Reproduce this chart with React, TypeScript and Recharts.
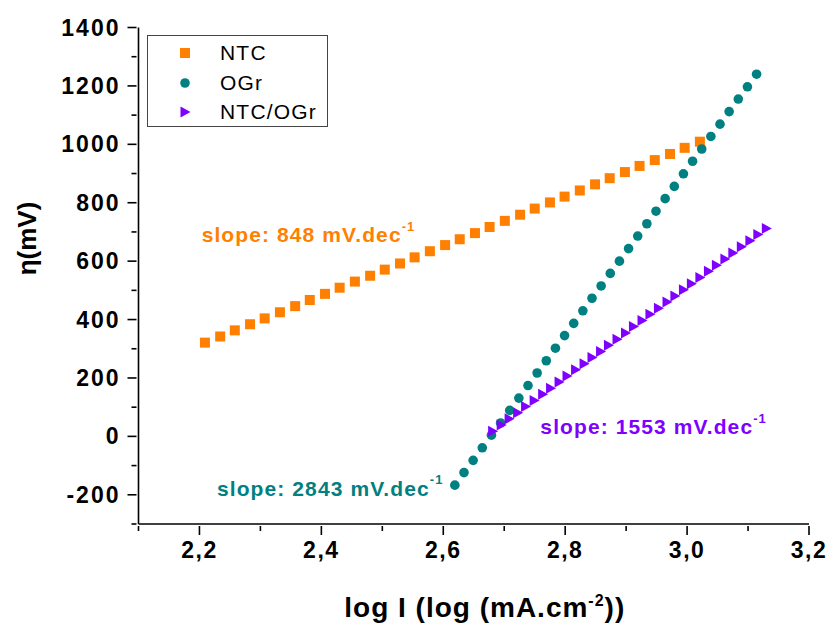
import React from 'react';
import { ScatterChart, Scatter, XAxis, YAxis, Legend, ReferenceDot } from 'recharts';

const FONT = '"Liberation Sans", Arial, sans-serif';
const ORANGE = '#ff8000';
const TEAL = '#008080';
const PURPLE = '#8000ff';

// log I values and overpotentials
const ntcX = [2.209, 2.234, 2.258, 2.283, 2.307, 2.332, 2.357, 2.381, 2.406, 2.430, 2.455, 2.480, 2.504, 2.529, 2.553, 2.578, 2.603, 2.627, 2.652, 2.676, 2.701, 2.726, 2.750, 2.775, 2.799, 2.824, 2.849, 2.873, 2.898, 2.922, 2.947, 2.972, 2.996, 3.021];
const ntcY = [321, 342, 363, 384, 404, 425, 446, 467, 488, 509, 530, 550, 571, 592, 613, 634, 655, 675, 696, 717, 738, 759, 780, 801, 821, 842, 863, 884, 905, 926, 946, 967, 988, 1009];

const ogrX = [2.619, 2.634, 2.649, 2.664, 2.679, 2.694, 2.709, 2.724, 2.739, 2.754, 2.769, 2.784, 2.799, 2.814, 2.829, 2.844, 2.859, 2.874, 2.889, 2.904, 2.919, 2.934, 2.949, 2.964, 2.979, 2.994, 3.009, 3.024, 3.039, 3.054, 3.069, 3.084, 3.099, 3.114];
const ogrY = [-167, -124, -82, -39, 4, 46, 89, 131, 174, 217, 259, 302, 345, 387, 430, 473, 515, 558, 600, 643, 686, 728, 771, 814, 856, 899, 942, 984, 1027, 1069, 1112, 1155, 1197, 1240];

const mixX = [2.681, 2.695, 2.708, 2.722, 2.735, 2.749, 2.763, 2.776, 2.790, 2.803, 2.817, 2.831, 2.844, 2.858, 2.871, 2.885, 2.899, 2.912, 2.926, 2.939, 2.953, 2.967, 2.980, 2.994, 3.007, 3.021, 3.035, 3.048, 3.062, 3.075, 3.089, 3.103, 3.116, 3.130];
const mixY = [18, 39, 60, 81, 102, 123, 144, 165, 186, 207, 228, 249, 270, 291, 312, 333, 354, 376, 397, 418, 439, 460, 481, 502, 523, 544, 565, 586, 607, 628, 649, 670, 691, 712];

const xTicks = [2.1, 2.2, 2.3, 2.4, 2.5, 2.6, 2.7, 2.8, 2.9, 3.0, 3.1, 3.2];
const yTicks = [-300, -200, -100, 0, 100, 200, 300, 400, 500, 600, 700, 800, 900, 1000, 1100, 1200, 1300, 1400];

const seriesNames = ['NTC', 'OGr', 'NTC/OGr'];
const slopeLabels = ['848', '2843', '1553'];

const toPoints = (xs: number[], ys: number[]) => xs.map((x, i) => ({ x, y: ys[i] }));
const ntcData = toPoints(ntcX, ntcY);
const ogrData = toPoints(ogrX, ogrY);
const mixData = toPoints(mixX, mixY);

const SquareDot = (p: any) => <rect x={p.cx - 5} y={p.cy - 5} width={10} height={10} fill={ORANGE} />;
const RoundDot = (p: any) => <circle cx={p.cx} cy={p.cy} r={4.8} fill={TEAL} />;
const TriDot = (p: any) => (
  <polygon points={`${p.cx - 4.5},${p.cy - 5.5} ${p.cx + 5.5},${p.cy} ${p.cx - 4.5},${p.cy + 5.5}`} fill={PURPLE} />
);

const XTick = (props: any) => {
  const { x, y, payload } = props;
  const major = Math.round(payload.value * 10) % 2 === 0;
  return (
    <g>
      <line x1={x} y1={y} x2={x} y2={y + (major ? 9 : 5)} stroke="#000" strokeWidth={1.6} />
      {major && (
        <text x={x} y={y + 32} textAnchor="middle" fontFamily={FONT} fontWeight="bold" fontSize={23} letterSpacing={1.5} fill="#000">
          {payload.value.toFixed(1).replace('.', ',')}
        </text>
      )}
    </g>
  );
};

const YTick = (props: any) => {
  const { x, y, payload } = props;
  const major = payload.value % 200 === 0;
  return (
    <g>
      <line x1={x} y1={y} x2={x - (major ? 9 : 5)} y2={y} stroke="#000" strokeWidth={1.6} />
      {major && (
        <text x={x - 16} y={y} textAnchor="end" dominantBaseline="central" fontFamily={FONT} fontWeight="bold" fontSize={23} letterSpacing={2} fill="#000">
          {payload.value}
        </text>
      )}
    </g>
  );
};

const legendMarks = [
  <rect key="a" x={2} y={2} width={10} height={10} fill={ORANGE} />,
  <circle key="b" cx={7} cy={7} r={4.8} fill={TEAL} />,
  <polygon key="c" points="2.5,1.5 12.5,7 2.5,12.5" fill={PURPLE} />,
];

const LegendBox = () => (
  <div style={{ width: 181, height: 92, border: '1.2px solid #444', boxSizing: 'border-box', position: 'relative', background: '#fff' }}>
    {seriesNames.map((name, i) => (
      <div key={name} style={{ position: 'absolute', left: 0, top: 4 + i * 29.5, height: 26, display: 'flex', alignItems: 'center' }}>
        <svg width={14} height={14} style={{ marginLeft: 30 }}>{legendMarks[i]}</svg>
        <span style={{ marginLeft: 28, fontFamily: FONT, fontSize: 21, letterSpacing: 1.2, color: '#000' }}>{name}</span>
      </div>
    ))}
  </div>
);

const slopeText = (value: string, color: string) => (p: any) => (
  <text x={p.cx} y={p.cy} dominantBaseline="central" fontFamily={FONT} fontWeight="bold" fontSize={21} letterSpacing={1.1} fill={color}>
    slope: {value} mV.dec
    <tspan fontSize={13} dy={-9}>-1</tspan>
  </text>
);

export default function App() {
  return (
    <div style={{ position: 'absolute', left: 0, top: 0, width: 830, height: 626, background: '#fff' }}>
      <ScatterChart width={830} height={626} margin={{ top: 27.5, right: 21, bottom: 0, left: 0 }}>
        <XAxis
          type="number"
          dataKey="x"
          domain={[2.1, 3.2]}
          ticks={xTicks}
          interval={0}
          allowDataOverflow
          height={102}
          tickSize={0}
          tickLine={false}
          axisLine={{ stroke: '#000', strokeWidth: 1.6 }}
          tick={<XTick />}
          label={{
            content: (p: any) => (
              <text x={p.viewBox.x + p.viewBox.width / 2 + 11} y={p.viewBox.y + 93} textAnchor="middle" fontFamily={FONT} fontWeight="bold" fontSize={28} letterSpacing={1} fill="#000">
                log I (log (mA.cm
                <tspan fontSize={16} dy={-11}>-2</tspan>
                <tspan dy={11}>))</tspan>
              </text>
            ),
          }}
        />
        <XAxis xAxisId="top" type="number" dataKey="x" orientation="top" domain={[2.1, 3.2]} height={0} tick={false} tickLine={false} axisLine={{ stroke: '#000', strokeWidth: 1.6 }} />
        <YAxis
          type="number"
          dataKey="y"
          domain={[-300, 1400]}
          ticks={yTicks}
          interval={0}
          allowDataOverflow
          width={138.5}
          tickSize={0}
          tickLine={false}
          axisLine={{ stroke: '#000', strokeWidth: 1.6 }}
          tick={<YTick />}
          label={{
            content: (p: any) => (
              <text transform={`translate(${p.viewBox.x + 27}, ${p.viewBox.y + 211}) rotate(-90)`} textAnchor="middle" dominantBaseline="central" fontFamily={FONT} fontWeight="bold" fontSize={26} fill="#000">
                η(mV)
              </text>
            ),
          }}
        />
        <YAxis yAxisId="right" type="number" dataKey="y" orientation="right" domain={[-300, 1400]} width={0} tick={false} tickLine={false} axisLine={{ stroke: '#000', strokeWidth: 1.6 }} />
        <Legend layout="vertical" align="center" verticalAlign="middle" wrapperStyle={{ left: 147, top: 35, width: 181, height: 92 }} content={<LegendBox />} />
        <Scatter name={seriesNames[0]} data={ntcData} shape={SquareDot} isAnimationActive={false} />
        <Scatter name={seriesNames[1]} data={ogrData} shape={RoundDot} isAnimationActive={false} />
        <Scatter name={seriesNames[2]} data={mixData} shape={TriDot} isAnimationActive={false} />
        <ReferenceDot x={2.2036} y={690} ifOverflow="visible" shape={slopeText(slopeLabels[0], ORANGE)} />
        <ReferenceDot x={2.2287} y={-177} ifOverflow="visible" shape={slopeText(slopeLabels[1], TEAL)} />
        <ReferenceDot x={2.7593} y={33} ifOverflow="visible" shape={slopeText(slopeLabels[2], PURPLE)} />
      </ScatterChart>
    </div>
  );
}
